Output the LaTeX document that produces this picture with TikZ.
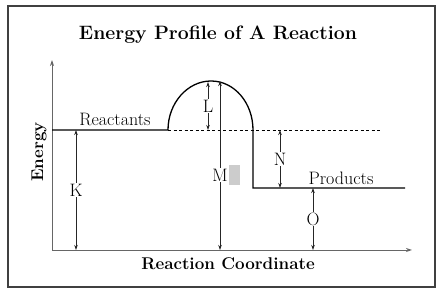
\documentclass[tikz,border=0pt]{standalone}
\usetikzlibrary{arrows.meta,positioning}
\tikzset{
  lvl/.style   = {line width=1.3pt, draw=black},
  ref/.style   = {line width=0.8pt, draw=black, dash pattern=on 3pt off 2.5pt},
  dim/.style   = {{Stealth[length=5pt,width=3.5pt]}-{Stealth[length=5pt,width=3.5pt]},
                  line width=0.7pt, draw=black!85},
  ax/.style    = {-{Stealth[length=6pt,width=4pt]}, line width=0.9pt, draw=black!60},
  lbl/.style   = {font=\fontsize{18}{20}\selectfont, inner sep=1pt},
  cut/.style   = {lbl, fill=white},
  ttl/.style   = {font=\fontsize{19.4}{22}\selectfont\bfseries},
  axlbl/.style = {font=\fontsize{17}{19}\selectfont\bfseries},
  frame/.style = {line width=1.5pt, draw=black!75}
}
\begin{document}
\begin{tikzpicture}[x=1pt,y=-1pt]
    \useasboundingbox (0,0) rectangle (440,296);
    % ---- Frame and title ----
    \coordinate (fa) at (8,6);
    \coordinate (fb) at (435,287);
    \draw[frame] (fa) rectangle (fb);
    \node[ttl] (title) at (218,35) {Energy Profile of A Reaction};

    % ---- Axes ----
    \coordinate (orig) at (52,250);
    \coordinate (ytop) at (52,60);
    \coordinate (xend) at (412,250);
    \draw[ax] (orig) -- (ytop);
    \draw[ax] (orig) -- (xend);
    \node[axlbl, rotate=90] (energy) at (39,152) {Energy};
    \node[axlbl] (coord) at (228,264) {Reaction Coordinate};

    % ---- Energy curve ----
    \coordinate (react0) at (52,130);
    \coordinate (react1) at (168,130);
    \coordinate (peak) at (211,81);
    \coordinate (drop) at (253,130);
    \coordinate (prod0) at (253,188);
    \coordinate (prod1) at (405,188);
    \coordinate (dash1) at (380,130);
    \draw[lvl] (react0) -- (react1)
        .. controls +(0,-27) and +(-23.5,0) .. (peak)
        .. controls +(23.5,0) and +(0,-27) .. (drop) -- (prod0) -- (prod1);
    \draw[ref] (react1) -- (dash1);
    \node[lbl] (reactants) at (115,120) {Reactants};
    \node[lbl] (products) at (341,178) {Products};

    % ---- Energy gaps ----
    \coordinate (kt) at (76,130);
    \coordinate (kb) at (76,250);
    \coordinate (lt) at (208,82);
    \coordinate (lb) at (208,130);
    \coordinate (mt) at (220,81);
    \coordinate (mb) at (220,250);
    \coordinate (nt) at (280,130);
    \coordinate (nb) at (280,188);
    \coordinate (ot) at (313,188);
    \coordinate (ob) at (313,250);
    \draw[dim] (kt) -- node[cut] (K) {K} (kb);
    \draw[dim] (lt) -- node[cut] (L) {L} (lb);
    \draw[dim] (mt) -- node[cut, pos=0.556] (M) {M} (mb);
    \draw[dim] (nt) -- node[cut] (N) {N} (nb);
    \draw[dim] (ot) -- node[cut] (O) {O} (ob);
    \node[fill=black!20, minimum width=11pt, minimum height=20pt, inner sep=0pt,
          right=0pt of M] (mark) {};
\end{tikzpicture}
\end{document}
